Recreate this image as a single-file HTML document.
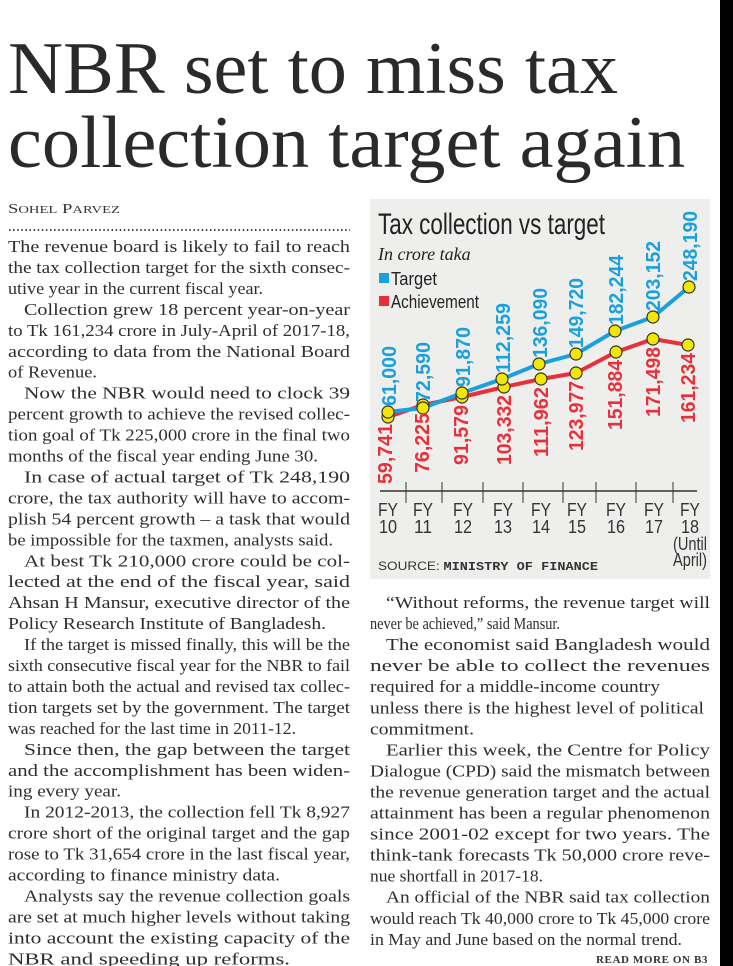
<!DOCTYPE html>
<html><head><meta charset="utf-8"><style>
html,body{margin:0;padding:0;background:#fff;width:733px;height:966px;overflow:hidden}
svg{display:block}
.b{font-family:"Liberation Serif",serif;font-size:17px;fill:#2e2e2e}
.n{font-family:"Liberation Sans Narrow","Liberation Sans",sans-serif}
</style></head><body>
<svg width="733" height="966" viewBox="0 0 733 966" xmlns="http://www.w3.org/2000/svg">
<rect x="720" y="0" width="13" height="966" fill="#000"/>
<g font-family="Liberation Serif,serif" font-size="74" fill="#2a2a2a">
<text x="8" y="93" textLength="610" lengthAdjust="spacingAndGlyphs">NBR set to miss tax</text>
<text x="8" y="167" textLength="677" lengthAdjust="spacingAndGlyphs">collection target again</text>
</g>
<text x="8" y="213" font-family="Liberation Serif,serif" font-size="14" fill="#333" textLength="112" lengthAdjust="spacingAndGlyphs">S<tspan font-size="11">OHEL</tspan> P<tspan font-size="11">ARVEZ</tspan></text>
<line x1="9" y1="230" x2="350" y2="230" stroke="#444" stroke-width="2" stroke-dasharray="1.5 2.6"/>

<g class="b" lengthAdjust="spacingAndGlyphs">
<text x="8" y="252" textLength="342" lengthAdjust="spacingAndGlyphs">The revenue board is likely to fail to reach</text>
<text x="8" y="272.95" textLength="342" lengthAdjust="spacingAndGlyphs">the tax collection target for the sixth consec-</text>
<text x="8" y="293.9" textLength="255" lengthAdjust="spacingAndGlyphs">utive year in the current fiscal year.</text>
<text x="24" y="314.85" textLength="326" lengthAdjust="spacingAndGlyphs">Collection grew 18 percent year-on-year</text>
<text x="8" y="335.8" textLength="342" lengthAdjust="spacingAndGlyphs">to Tk 161,234 crore in July-April of 2017-18,</text>
<text x="8" y="356.75" textLength="342" lengthAdjust="spacingAndGlyphs">according to data from the National Board</text>
<text x="8" y="377.7" textLength="89" lengthAdjust="spacingAndGlyphs">of Revenue.</text>
<text x="24" y="398.65" textLength="326" lengthAdjust="spacingAndGlyphs">Now the NBR would need to clock 39</text>
<text x="8" y="419.6" textLength="342" lengthAdjust="spacingAndGlyphs">percent growth to achieve the revised collec-</text>
<text x="8" y="440.55" textLength="342" lengthAdjust="spacingAndGlyphs">tion goal of Tk 225,000 crore in the final two</text>
<text x="8" y="461.5" textLength="310" lengthAdjust="spacingAndGlyphs">months of the fiscal year ending June 30.</text>
<text x="24" y="482.45" textLength="326" lengthAdjust="spacingAndGlyphs">In case of actual target of Tk 248,190</text>
<text x="8" y="503.4" textLength="342" lengthAdjust="spacingAndGlyphs">crore, the tax authority will have to accom-</text>
<text x="8" y="524.35" textLength="342" lengthAdjust="spacingAndGlyphs">plish 54 percent growth – a task that would</text>
<text x="8" y="545.3" textLength="325" lengthAdjust="spacingAndGlyphs">be impossible for the taxmen, analysts said.</text>
<text x="24" y="566.25" textLength="326" lengthAdjust="spacingAndGlyphs">At best Tk 210,000 crore could be col-</text>
<text x="8" y="587.2" textLength="342" lengthAdjust="spacingAndGlyphs">lected at the end of the fiscal year, said</text>
<text x="8" y="608.15" textLength="342" lengthAdjust="spacingAndGlyphs">Ahsan H Mansur, executive director of the</text>
<text x="8" y="629.1" textLength="318" lengthAdjust="spacingAndGlyphs">Policy Research Institute of Bangladesh.</text>
<text x="24" y="650.05" textLength="326" lengthAdjust="spacingAndGlyphs">If the target is missed finally, this will be the</text>
<text x="8" y="671" textLength="342" lengthAdjust="spacingAndGlyphs">sixth consecutive fiscal year for the NBR to fail</text>
<text x="8" y="691.95" textLength="342" lengthAdjust="spacingAndGlyphs">to attain both the actual and revised tax collec-</text>
<text x="8" y="712.9" textLength="342" lengthAdjust="spacingAndGlyphs">tion targets set by the government. The target</text>
<text x="8" y="733.85" textLength="288" lengthAdjust="spacingAndGlyphs">was reached for the last time in 2011-12.</text>
<text x="24" y="754.8" textLength="326" lengthAdjust="spacingAndGlyphs">Since then, the gap between the target</text>
<text x="8" y="775.75" textLength="342" lengthAdjust="spacingAndGlyphs">and the accomplishment has been widen-</text>
<text x="8" y="796.7" textLength="113" lengthAdjust="spacingAndGlyphs">ing every year.</text>
<text x="24" y="817.65" textLength="326" lengthAdjust="spacingAndGlyphs">In 2012-2013, the collection fell Tk 8,927</text>
<text x="8" y="838.6" textLength="342" lengthAdjust="spacingAndGlyphs">crore short of the original target and the gap</text>
<text x="8" y="859.55" textLength="342" lengthAdjust="spacingAndGlyphs">rose to Tk 31,654 crore in the last fiscal year,</text>
<text x="8" y="880.5" textLength="272" lengthAdjust="spacingAndGlyphs">according to finance ministry data.</text>
<text x="24" y="901.45" textLength="326" lengthAdjust="spacingAndGlyphs">Analysts say the revenue collection goals</text>
<text x="8" y="922.4" textLength="342" lengthAdjust="spacingAndGlyphs">are set at much higher levels without taking</text>
<text x="8" y="943.35" textLength="342" lengthAdjust="spacingAndGlyphs">into account the existing capacity of the</text>
<text x="8" y="964.3" textLength="282" lengthAdjust="spacingAndGlyphs">NBR and speeding up reforms.</text>

<text x="386" y="608" textLength="324" lengthAdjust="spacingAndGlyphs">“Without reforms, the revenue target will</text>
<text x="370" y="629.05" textLength="190" lengthAdjust="spacingAndGlyphs">never be achieved,” said Mansur.</text>
<text x="386" y="650.1" textLength="324" lengthAdjust="spacingAndGlyphs">The economist said Bangladesh would</text>
<text x="370" y="671.15" textLength="340" lengthAdjust="spacingAndGlyphs">never be able to collect the revenues</text>
<text x="370" y="692.2" textLength="290" lengthAdjust="spacingAndGlyphs">required for a middle-income country</text>
<text x="370" y="713.25" textLength="334" lengthAdjust="spacingAndGlyphs">unless there is the highest level of political</text>
<text x="370" y="734.3" textLength="104" lengthAdjust="spacingAndGlyphs">commitment.</text>
<text x="386" y="755.35" textLength="324" lengthAdjust="spacingAndGlyphs">Earlier this week, the Centre for Policy</text>
<text x="370" y="776.4" textLength="340" lengthAdjust="spacingAndGlyphs">Dialogue (CPD) said the mismatch between</text>
<text x="370" y="797.45" textLength="340" lengthAdjust="spacingAndGlyphs">the revenue generation target and the actual</text>
<text x="370" y="818.5" textLength="340" lengthAdjust="spacingAndGlyphs">attainment has been a regular phenomenon</text>
<text x="370" y="839.55" textLength="340" lengthAdjust="spacingAndGlyphs">since 2001-02 except for two years. The</text>
<text x="370" y="860.6" textLength="340" lengthAdjust="spacingAndGlyphs">think-tank forecasts Tk 50,000 crore reve-</text>
<text x="370" y="881.65" textLength="173" lengthAdjust="spacingAndGlyphs">nue shortfall in 2017-18.</text>
<text x="386" y="902.7" textLength="324" lengthAdjust="spacingAndGlyphs">An official of the NBR said tax collection</text>
<text x="370" y="923.75" textLength="340" lengthAdjust="spacingAndGlyphs">would reach Tk 40,000 crore to Tk 45,000 crore</text>
<text x="370" y="944.8" textLength="312" lengthAdjust="spacingAndGlyphs">in May and June based on the normal trend.</text>
</g>
<text x="708" y="963" text-anchor="end" font-family="Liberation Serif,serif" font-size="11" font-weight="bold" fill="#333" letter-spacing="0.6">READ MORE ON B3</text>

<!-- chart -->
<rect x="370" y="199" width="340" height="380" fill="#eeefed"/>
<text class="n" x="378" y="234" font-size="30" fill="#222" textLength="227" lengthAdjust="spacingAndGlyphs">Tax collection vs target</text>
<text x="378" y="260" font-family="Liberation Serif,serif" font-style="italic" font-size="18" fill="#222">In crore taka</text>
<rect x="379" y="273" width="10" height="10" fill="#1aa0dc"/>
<text class="n" x="391" y="285" font-size="18" fill="#222" textLength="46" lengthAdjust="spacingAndGlyphs">Target</text>
<rect x="379" y="296" width="10" height="10" fill="#e8303a"/>
<text class="n" x="391" y="308" font-size="18" fill="#222" textLength="88" lengthAdjust="spacingAndGlyphs">Achievement</text>

<line x1="380" y1="491" x2="697" y2="491" stroke="#333" stroke-width="1.5"/>
<g stroke="#333" stroke-width="1">
<line x1="406" y1="482" x2="406" y2="503"/><line x1="442" y1="482" x2="442" y2="503"/>
<line x1="483" y1="482" x2="483" y2="503"/><line x1="523" y1="482" x2="523" y2="503"/>
<line x1="563" y1="482" x2="563" y2="503"/><line x1="596" y1="482" x2="596" y2="503"/>
<line x1="636" y1="482" x2="636" y2="503"/><line x1="673" y1="482" x2="673" y2="503"/>
</g>
<g class="n" font-size="18" fill="#333" text-anchor="middle" lengthAdjust="spacingAndGlyphs">
<text x="388" y="516" textLength="20" lengthAdjust="spacingAndGlyphs">FY</text><text x="388" y="533" textLength="18" lengthAdjust="spacingAndGlyphs">10</text>
<text x="423" y="516" textLength="20" lengthAdjust="spacingAndGlyphs">FY</text><text x="423" y="533" textLength="18" lengthAdjust="spacingAndGlyphs">11</text>
<text x="463" y="516" textLength="20" lengthAdjust="spacingAndGlyphs">FY</text><text x="463" y="533" textLength="18" lengthAdjust="spacingAndGlyphs">12</text>
<text x="503" y="516" textLength="20" lengthAdjust="spacingAndGlyphs">FY</text><text x="503" y="533" textLength="18" lengthAdjust="spacingAndGlyphs">13</text>
<text x="541" y="516" textLength="20" lengthAdjust="spacingAndGlyphs">FY</text><text x="541" y="533" textLength="18" lengthAdjust="spacingAndGlyphs">14</text>
<text x="577" y="516" textLength="20" lengthAdjust="spacingAndGlyphs">FY</text><text x="577" y="533" textLength="18" lengthAdjust="spacingAndGlyphs">15</text>
<text x="616" y="516" textLength="20" lengthAdjust="spacingAndGlyphs">FY</text><text x="616" y="533" textLength="18" lengthAdjust="spacingAndGlyphs">16</text>
<text x="654" y="516" textLength="20" lengthAdjust="spacingAndGlyphs">FY</text><text x="654" y="533" textLength="18" lengthAdjust="spacingAndGlyphs">17</text>
<text x="690" y="516" textLength="20" lengthAdjust="spacingAndGlyphs">FY</text><text x="690" y="533" textLength="18" lengthAdjust="spacingAndGlyphs">18</text>
<text x="690" y="550" textLength="34" lengthAdjust="spacingAndGlyphs">(Until</text><text x="690" y="566" textLength="34" lengthAdjust="spacingAndGlyphs">April)</text>
</g>
<text x="378" y="570" font-family="Liberation Sans,sans-serif" font-size="12" fill="#333" textLength="220" lengthAdjust="spacingAndGlyphs">SOURCE: <tspan font-family="Liberation Mono,monospace" font-weight="bold">MINISTRY OF FINANCE</tspan></text>

<polyline fill="none" stroke="#e8303a" stroke-width="4" stroke-linejoin="round" points="388,417 423,405 462,397 504,387 541,379 576,373 616,352 653,339 688,345"/>
<polyline fill="none" stroke="#1aa0dc" stroke-width="4" stroke-linejoin="round" points="388,412 423,408 462,393 502,379 539,364 576,354 615,331 653,317 689,287"/>
<g fill="#f3e600" stroke="#333" stroke-width="1.2">
<circle cx="388" cy="417" r="6"/><circle cx="423" cy="405" r="6"/><circle cx="462" cy="397" r="6"/><circle cx="504" cy="387" r="6"/><circle cx="541" cy="379" r="6"/><circle cx="576" cy="373" r="6"/><circle cx="616" cy="352" r="6"/><circle cx="653" cy="339" r="6"/><circle cx="688" cy="345" r="6"/>
<circle cx="388" cy="412" r="6"/><circle cx="423" cy="408" r="6"/><circle cx="462" cy="393" r="6"/><circle cx="502" cy="379" r="6"/><circle cx="539" cy="364" r="6"/><circle cx="576" cy="354" r="6"/><circle cx="615" cy="331" r="6"/><circle cx="653" cy="317" r="6"/><circle cx="689" cy="287" r="6"/>
</g>
<g class="n" font-size="20" font-weight="bold" fill="#1aa0dc">
<text transform="translate(396,406) rotate(-90)" textLength="60" lengthAdjust="spacingAndGlyphs">61,000</text>
<text transform="translate(430,402) rotate(-90)" textLength="60" lengthAdjust="spacingAndGlyphs">72,590</text>
<text transform="translate(470,387) rotate(-90)" textLength="60" lengthAdjust="spacingAndGlyphs">91,870</text>
<text transform="translate(510,373) rotate(-90)" textLength="70" lengthAdjust="spacingAndGlyphs">112,259</text>
<text transform="translate(547,358) rotate(-90)" textLength="70" lengthAdjust="spacingAndGlyphs">136,090</text>
<text transform="translate(583,348) rotate(-90)" textLength="70" lengthAdjust="spacingAndGlyphs">149,720</text>
<text transform="translate(623,325) rotate(-90)" textLength="70" lengthAdjust="spacingAndGlyphs">182,244</text>
<text transform="translate(660,311) rotate(-90)" textLength="70" lengthAdjust="spacingAndGlyphs">203,152</text>
<text transform="translate(697,281) rotate(-90)" textLength="70" lengthAdjust="spacingAndGlyphs">248,190</text>
</g>
<g class="n" font-size="20" font-weight="bold" fill="#e8303a" text-anchor="end">
<text transform="translate(392,424) rotate(-90)" textLength="60" lengthAdjust="spacingAndGlyphs">59,741</text>
<text transform="translate(429,413) rotate(-90)" textLength="60" lengthAdjust="spacingAndGlyphs">76,225</text>
<text transform="translate(468,405) rotate(-90)" textLength="60" lengthAdjust="spacingAndGlyphs">91,579</text>
<text transform="translate(511,395) rotate(-90)" textLength="70" lengthAdjust="spacingAndGlyphs">103,332</text>
<text transform="translate(548,387) rotate(-90)" textLength="70" lengthAdjust="spacingAndGlyphs">111,962</text>
<text transform="translate(583,381) rotate(-90)" textLength="70" lengthAdjust="spacingAndGlyphs">123,977</text>
<text transform="translate(622,360) rotate(-90)" textLength="70" lengthAdjust="spacingAndGlyphs">151,884</text>
<text transform="translate(660,347) rotate(-90)" textLength="70" lengthAdjust="spacingAndGlyphs">171,498</text>
<text transform="translate(695,353) rotate(-90)" textLength="70" lengthAdjust="spacingAndGlyphs">161,234</text>
</g>
</svg>
</body></html>
